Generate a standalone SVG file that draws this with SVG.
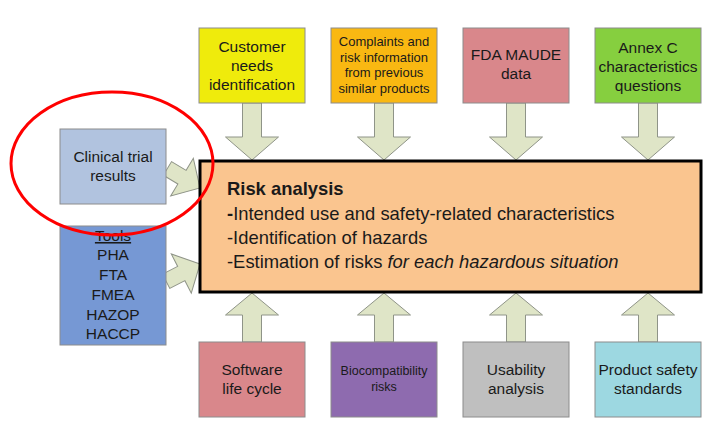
<svg xmlns="http://www.w3.org/2000/svg" width="724" height="437" viewBox="0 0 724 437">
<defs>
<style>
.box{stroke:#8c8c8c;stroke-width:1}
.arr{fill:#dfe5c7;stroke:#8f9488;stroke-width:1}
text{font-family:"Liberation Sans",Arial,sans-serif;fill:#1a1a1a;text-anchor:middle}
.t15{font-size:15.5px}
.t13{font-size:13px}
.t12{font-size:12.5px}
.main{font-size:18.4px;text-anchor:start}
</style>
<path id="down" d="M0,0 L-26.5,-23 L-9.5,-23 L-9.5,-57 L9.5,-57 L9.5,-23 L26.5,-23 Z"/>
<path id="up" d="M0,0 L-26.5,22 L-9.5,22 L-9.5,49 L9.5,49 L9.5,22 L26.5,22 Z"/>
<path id="side" d="M0,0 L-21,-22 L-21,-8 L-38,-8 L-38,8 L-21,8 L-21,22 Z"/>
</defs>
<rect width="724" height="437" fill="#ffffff"/>
<g id="connectors">
<use href="#down" class="arr" x="252" y="160"/>
<use href="#down" class="arr" x="384" y="160"/>
<use href="#down" class="arr" x="516" y="160"/>
<use href="#down" class="arr" x="648" y="160"/>
<use href="#up" class="arr" x="252" y="293"/>
<use href="#up" class="arr" x="384" y="293"/>
<use href="#up" class="arr" x="516" y="293"/>
<use href="#up" class="arr" x="648" y="293"/>
<use href="#side" class="arr" transform="translate(200,188) rotate(31)"/>
<use href="#side" class="arr" transform="translate(200,264) rotate(-27)"/>
</g>
<g id="customer">
<rect class="box" x="199" y="28" width="106" height="75" fill="#efeb0c"/>
<text class="t15" x="252" y="52">Customer</text>
<text class="t15" x="252" y="71">needs</text>
<text class="t15" x="252" y="90">identification</text>
</g>
<g id="complaints">
<rect class="box" x="331" y="28" width="106" height="75" fill="#f9b812"/>
<text class="t13" x="384" y="46">Complaints and</text>
<text class="t13" x="384" y="62">risk information</text>
<text class="t13" x="384" y="77">from previous</text>
<text class="t13" x="384" y="93">similar products</text>
</g>
<g id="fda">
<rect class="box" x="463" y="28" width="106" height="75" fill="#d9878b"/>
<text class="t15" x="516" y="60">FDA MAUDE</text>
<text class="t15" x="516" y="79">data</text>
</g>
<g id="annex">
<rect class="box" x="595" y="28" width="106" height="75" fill="#86cf3f"/>
<text class="t15" x="648" y="53">Annex C</text>
<text class="t15" x="648" y="72">characteristics</text>
<text class="t15" x="648" y="91">questions</text>
</g>
<g id="clinical">
<rect class="box" x="60" y="129" width="106" height="75" fill="#b1c3df"/>
<text class="t15" x="113" y="162">Clinical trial</text>
<text class="t15" x="113" y="181">results</text>
</g>
<g id="tools">
<rect class="box" x="60" y="226" width="106" height="119" fill="#7698d4"/>
<text class="t15" x="113" y="241" text-decoration="underline">Tools</text>
<text class="t15" x="113" y="260">PHA</text>
<text class="t15" x="113" y="280">FTA</text>
<text class="t15" x="113" y="300">FMEA</text>
<text class="t15" x="113" y="320">HAZOP</text>
<text class="t15" x="113" y="339">HACCP</text>
</g>
<g id="risk-analysis">
<rect x="200" y="161" width="501" height="131" fill="#fac58f" stroke="#000000" stroke-width="3"/>
<text class="main" x="227" y="195" font-weight="bold">Risk analysis</text>
<text class="main" x="227" y="220"><tspan font-weight="bold">-</tspan>Intended use and safety-related characteristics</text>
<text class="main" x="227" y="244">-Identification of hazards</text>
<text class="main" x="227" y="268">-Estimation of risks <tspan font-style="italic">for each hazardous situation</tspan></text>
</g>
<g id="software">
<rect class="box" x="199" y="342" width="106" height="75" fill="#d9878b"/>
<text class="t15" x="252" y="375">Software</text>
<text class="t15" x="252" y="394">life cycle</text>
</g>
<g id="biocompatibility">
<rect class="box" x="331" y="342" width="106" height="75" fill="#8e6baf"/>
<text class="t12" x="384" y="375">Biocompatibility</text>
<text class="t12" x="384" y="391">risks</text>
</g>
<g id="usability">
<rect class="box" x="463" y="342" width="106" height="75" fill="#bfbfbf"/>
<text class="t15" x="516" y="375">Usability</text>
<text class="t15" x="516" y="394">analysis</text>
</g>
<g id="product-safety">
<rect class="box" x="595" y="342" width="106" height="75" fill="#9dd8e1"/>
<text class="t15" x="648" y="375">Product safety</text>
<text class="t15" x="648" y="394">standards</text>
</g>
<g id="highlight">
<ellipse cx="112" cy="163.5" rx="101" ry="71.5" fill="none" stroke="#ff0000" stroke-width="3"/>
</g>
</svg>
